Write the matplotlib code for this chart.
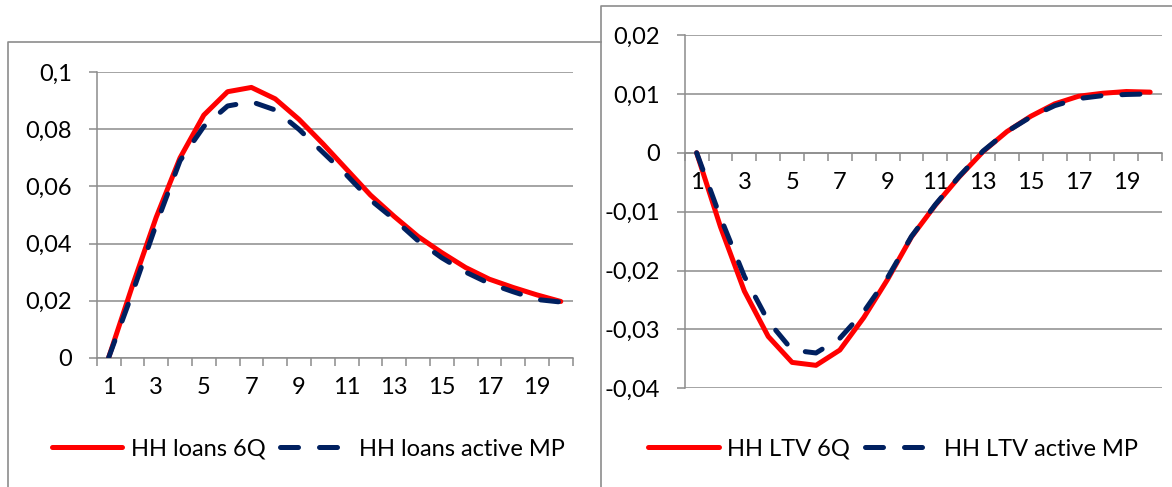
import matplotlib
matplotlib.use("Agg")
import matplotlib.pyplot as plt
from matplotlib.lines import Line2D
from matplotlib.ticker import FixedLocator, FixedFormatter

plt.rcParams['font.family'] = ['Lato', 'DejaVu Sans']

# ---------------- data ----------------
periods = list(range(1, 21))
xtick_labels = ["1", "3", "5", "7", "9", "11", "13", "15", "17", "19"]
xtick_pos = [1, 3, 5, 7, 9, 11, 13, 15, 17, 19]

loans_6q = [0, 0.0252, 0.0492, 0.0700, 0.0850, 0.0932, 0.0947, 0.0907, 0.0835, 0.0750,
            0.0660, 0.0570, 0.0495, 0.0425, 0.0368, 0.0316, 0.0275, 0.0246, 0.0220, 0.0197]
loans_mp = [0, 0.0227, 0.0467, 0.0690, 0.0810, 0.0882, 0.0897, 0.0868, 0.0800, 0.0720,
            0.0640, 0.0553, 0.0485, 0.0410, 0.0350, 0.0300, 0.0260, 0.0231, 0.0204, 0.0195]
loans_yticks = [0, 0.02, 0.04, 0.06, 0.08, 0.1]
loans_ylabels = ["0", "0,02", "0,04", "0,06", "0,08", "0,1"]

ltv_6q = [0, -0.0126, -0.0235, -0.0312, -0.0356, -0.0361, -0.0335, -0.0280, -0.0215, -0.0143,
          -0.0089, -0.0041, 0.0002, 0.0036, 0.0062, 0.0083, 0.0096, 0.0101, 0.0104, 0.0103]
ltv_mp = [0, -0.0110, -0.0210, -0.0286, -0.0335, -0.0340, -0.0315, -0.0270, -0.0212, -0.0142,
          -0.0088, -0.0040, 0.0003, 0.0036, 0.0061, 0.0080, 0.0092, 0.0097, 0.0099, 0.0100]
ltv_yticks = [-0.04, -0.03, -0.02, -0.01, 0, 0.01, 0.02]
ltv_ylabels = ["-0,04", "-0,03", "-0,02", "-0,01", "0", "0,01", "0,02"]

legend_left = ["HH loans 6Q", "HH loans active MP"]
legend_right = ["HH LTV 6Q", "HH LTV active MP"]

# ---------------- style ----------------
W, H = 1172, 487
RED = "#FF0000"
NAVY = "#002060"
GRID = "#8C8C8C"
FS = 17

fig = plt.figure(figsize=(W / 100, H / 100), dpi=100)

def px_axes(x0, x1, ytop, ybot):
    return fig.add_axes([x0 / W, (H - ybot) / H, (x1 - x0) / W, (ybot - ytop) / H])

ax1 = px_axes(96.7, 572.7, 72.3, 357.7)
ax2 = px_axes(684.7, 1162.1, 35.0, 388.3)

def style(ax, yticks, ylabels, ylim, data_a, data_b, labels, legend_center):
    ax.plot(periods, data_a, color=RED, lw=3.6, solid_capstyle='round',
            solid_joinstyle='round', label=labels[0], zorder=3)
    ax.plot(periods, data_b, color=NAVY, lw=3.6, dashes=(3.6, 4.2),
            dash_capstyle='round', dash_joinstyle='round', label=labels[1], zorder=4)
    ax.set_xlim(0.5, 20.5)
    ax.set_ylim(*ylim)
    for s in ['top', 'right']:
        ax.spines[s].set_visible(False)
    ax.spines['left'].set_color(GRID)
    ax.spines['left'].set_linewidth(1.1)
    ax.spines['bottom'].set_position(('data', 0))
    ax.spines['bottom'].set_color(GRID)
    ax.spines['bottom'].set_linewidth(1.1)
    ax.yaxis.set_major_locator(FixedLocator(yticks))
    ax.yaxis.set_major_formatter(FixedFormatter(ylabels))
    ax.grid(axis='y', color=GRID, lw=1.1)
    ax.set_axisbelow(True)
    ax.tick_params(axis='y', length=6, width=1.1, color=GRID, pad=12,
                   labelsize=FS, labelcolor='black')
    # category boundaries as major ticks, labels at odd categories as minor
    ax.xaxis.set_major_locator(FixedLocator([i + 0.5 for i in range(0, 21)]))
    ax.xaxis.set_major_formatter(FixedFormatter([""] * 21))
    ax.xaxis.set_minor_locator(FixedLocator(xtick_pos))
    ax.xaxis.set_minor_formatter(FixedFormatter(xtick_labels))
    ax.tick_params(axis='x', which='major', length=6, width=1.1, color=GRID,
                   direction='out')
    ax.tick_params(axis='x', which='minor', length=0, pad=14, labelsize=FS,
                   labelcolor='black')
    leg = ax.legend(loc='center', bbox_to_anchor=(legend_center[0] / W, 1 - legend_center[1] / H),
                    bbox_transform=fig.transFigure, ncol=2, frameon=False,
                    fontsize=FS, handlelength=3.0, handletextpad=0.35,
                    columnspacing=0.6, borderpad=0)
    return leg

style(ax1, loans_yticks, loans_ylabels, (0, 0.1), loans_6q, loans_mp, legend_left, (308, 449))
style(ax2, ltv_yticks, ltv_ylabels, (-0.04, 0.02), ltv_6q, ltv_mp, legend_right, (893, 449))

# panel borders (chart-area frames)
def fig_line(xs, ys):
    fig.add_artist(Line2D([x / W for x in xs], [1 - y / H for y in ys],
                          transform=fig.transFigure, color=GRID, lw=1.2))

fig_line([8, 8, 600.7], [H, 42.3, 42.3])
fig_line([600.7, 600.7, W], [H, 6, 6])

fig.savefig("out.png", dpi=100, facecolor='white')
